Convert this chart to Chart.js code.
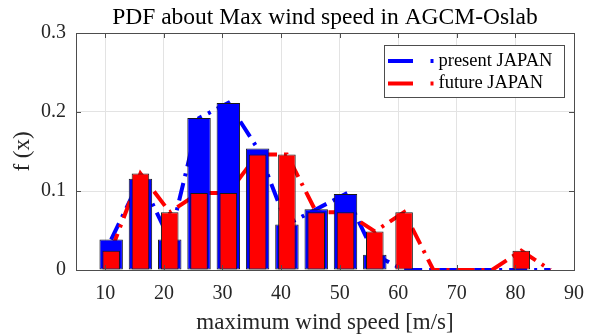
<!DOCTYPE html>
<html>
<head>
<meta charset="utf-8">
<script src="https://cdn.jsdelivr.net/npm/chart.js@4.4.0/dist/chart.umd.min.js"></script>
<style>
  html, body { margin: 0; padding: 0; background: #fff; }
</style>
</head>
<body>
<canvas id="pdf-chart" width="596" height="334"></canvas>
<script>
// histogram bin centres [m/s] and relative frequencies
const binCenters = [11, 16, 21, 26, 31, 36, 41, 46, 51, 56, 61, 66, 71, 76, 81, 86];
const presentJapan = [0.0385, 0.1154, 0.0385, 0.1923, 0.2115, 0.1538, 0.0577, 0.0769, 0.0962, 0.0192, 0, 0, 0, 0, 0, 0];
const futureJapan  = [0.0244, 0.1220, 0.0732, 0.0976, 0.0976, 0.1463, 0.1463, 0.0732, 0.0732, 0.0488, 0.0732, 0, 0, 0, 0.0244, 0];
const seriesNames = ["present JAPAN", "future JAPAN"];
const xTicks = [10, 20, 30, 40, 50, 60, 70, 80, 90];
const yTicks = [0, 0.1, 0.2, 0.3];

const toPoints = vals => binCenters.map((x, i) => ({x: x, y: vals[i]}));

const FONT = "'Liberation Serif', 'Times New Roman', serif";
const AXIS = '#4d4d4d';
const BLUE = '#0000ff';
const RED = '#ff0000';
const DASH = [18, 7, 3, 7];

// matlab-like box with inward ticks
const boxAxes = {
  id: 'boxAxes',
  afterDatasetsDraw(chart) {
    const {ctx, chartArea: a, scales: {x, y}} = chart;
    ctx.save();
    ctx.strokeStyle = AXIS;
    ctx.lineWidth = 1;
    ctx.beginPath();
    xTicks.forEach(v => {
      const px = Math.round(x.getPixelForValue(v)) + 0.5;
      ctx.moveTo(px, a.bottom); ctx.lineTo(px, a.bottom - 5);
      ctx.moveTo(px, a.top); ctx.lineTo(px, a.top + 5);
    });
    yTicks.forEach(v => {
      const py = Math.round(y.getPixelForValue(v)) + 0.5;
      ctx.moveTo(a.left, py); ctx.lineTo(a.left + 5, py);
      ctx.moveTo(a.right, py); ctx.lineTo(a.right - 5, py);
    });
    ctx.stroke();
    ctx.strokeRect(Math.round(a.left) + 0.5, Math.round(a.top) + 0.5,
                   Math.round(a.right - a.left), Math.round(a.bottom - a.top));
    ctx.restore();
  }
};

// legend box in the upper right corner
const boxLegend = {
  id: 'boxLegend',
  afterDraw(chart) {
    const ctx = chart.ctx;
    const colors = [BLUE, RED];
    ctx.save();
    ctx.fillStyle = '#fff';
    ctx.fillRect(384.5, 45.5, 180, 52);
    ctx.strokeStyle = AXIS;
    ctx.lineWidth = 1;
    ctx.strokeRect(384.5, 45.5, 180, 52);
    ctx.font = '18.5px ' + FONT;
    ctx.textBaseline = 'middle';
    seriesNames.forEach((name, i) => {
      const ly = 61 + i * 22.6;
      ctx.strokeStyle = colors[i];
      ctx.lineWidth = 4;
      ctx.setLineDash([25, 17.5, 3, 40]);
      ctx.beginPath();
      ctx.moveTo(388, ly);
      ctx.lineTo(434, ly);
      ctx.stroke();
      ctx.setLineDash([]);
      ctx.fillStyle = '#000';
      ctx.fillText(name, 438.5, ly);
    });
    ctx.restore();
  }
};

const barStyle = {
  type: 'bar',
  borderColor: '#1a1a1a',
  borderWidth: 1,
  borderSkipped: false,
  grouped: false,
  categoryPercentage: 1
};
const lineStyle = {
  type: 'line',
  borderWidth: 4,
  borderDash: DASH,
  pointRadius: 0,
  fill: false,
  tension: 0
};

new Chart(document.getElementById('pdf-chart'), {
  type: 'bar',
  data: {
    datasets: [
      {...barStyle, label: seriesNames[1], data: toPoints(futureJapan), backgroundColor: RED, barPercentage: 0.6, order: 1},
      {...barStyle, label: seriesNames[0], data: toPoints(presentJapan), backgroundColor: BLUE, barPercentage: 0.8, order: 2},
      {...lineStyle, label: seriesNames[1], data: toPoints(futureJapan), borderColor: RED, order: 3},
      {...lineStyle, label: seriesNames[0], data: toPoints(presentJapan), borderColor: BLUE, order: 4}
    ]
  },
  options: {
    responsive: false,
    animation: false,
    events: [],
    layout: { padding: { top: 0, right: 20, bottom: 0, left: 0 } },
    plugins: {
      legend: { display: false },
      tooltip: { enabled: false },
      title: {
        display: true,
        fullSize: false,
        text: 'PDF about Max wind speed in AGCM-Oslab',
        color: '#000',
        font: { family: FONT, size: 23.5, weight: 'normal', lineHeight: 1.2 },
        padding: { top: 4, bottom: 0.8 }
      }
    },
    scales: {
      x: {
        type: 'linear',
        min: 5,
        max: 90,
        offset: false,
        afterBuildTicks: s => { s.ticks = xTicks.map(v => ({value: v})); },
        afterFit: s => { s.height = 64; },
        grid: { color: '#e3e3e3', drawTicks: false, offset: false },
        border: { display: false },
        ticks: {
          padding: 12, color: '#262626', maxRotation: 0, autoSkip: false,
          font: { family: FONT, size: 20 },
          callback: v => String(v)
        },
        title: {
          display: true,
          text: 'maximum wind speed [m/s]',
          color: '#262626',
          font: { family: FONT, size: 23, lineHeight: 1 },
          padding: { top: 0, bottom: 0 }
        }
      },
      y: {
        min: 0,
        max: 0.3,
        afterBuildTicks: s => { s.ticks = yTicks.map(v => ({value: v})); },
        afterFit: s => { s.width = 76; },
        grid: { color: '#e3e3e3', drawTicks: false },
        border: { display: false },
        ticks: {
          padding: 10, color: '#262626',
          font: { family: FONT, size: 20 },
          callback: v => String(v)
        },
        title: {
          display: true,
          text: 'f (x)',
          color: '#262626',
          font: { family: FONT, size: 23, lineHeight: 1.2 },
          padding: { top: 9.4, bottom: 0 }
        }
      }
    }
  },
  plugins: [boxAxes, boxLegend]
});
</script>
</body>
</html>
